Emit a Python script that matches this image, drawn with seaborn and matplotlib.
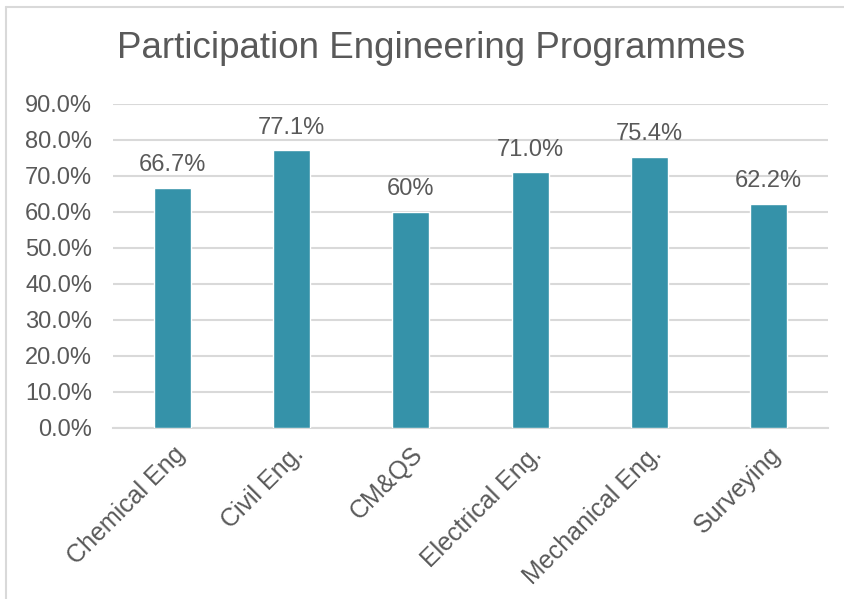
import matplotlib
matplotlib.use("Agg")
import matplotlib.pyplot as plt
import seaborn as sns
import pandas as pd
from matplotlib.lines import Line2D

programmes = ["Chemical Eng", "Civil Eng.", "CM&QS", "Electrical Eng.",
              "Mechanical Eng.", "Surveying"]
participation = [66.7, 77.1, 60.0, 71.0, 75.4, 62.2]
label_decimals = [1, 1, 0, 1, 1, 1]
yticks = [0, 10, 20, 30, 40, 50, 60, 70, 80, 90]

sns.set_theme(style="white")
plt.rcParams["font.family"] = ["Liberation Sans", "DejaVu Sans"]

TEXT = "#595959"
GRID = "#D9D9D9"
BAR = "#3592A9"

df = pd.DataFrame({"programme": programmes, "pct": participation})

fig = plt.figure(figsize=(8.45, 5.99), dpi=100)
ax = fig.add_axes([113 / 845, 1 - 428 / 599, (828 - 113) / 845, (428 - 104) / 599])

sns.barplot(data=df, x="programme", y="pct", color=BAR, width=0.31,
            saturation=1, ax=ax, zorder=3)

ax.set_ylim(0, 90)
ax.set_xlim(-0.5, len(programmes) - 0.5)
ax.set_yticks(yticks)
ax.set_yticklabels([f"{v:.1f}%" for v in yticks])
ax.yaxis.grid(True, color=GRID, linewidth=1.5, zorder=0)
ax.xaxis.grid(False)
for side in ["top", "right", "left"]:
    ax.spines[side].set_visible(False)
ax.spines["bottom"].set_color(GRID)
ax.spines["bottom"].set_linewidth(1.5)
ax.tick_params(axis="both", length=0, labelcolor=TEXT)
ax.tick_params(axis="y", pad=15, labelsize=17)
ax.tick_params(axis="x", pad=10, labelsize=18)
ax.set_xlabel("")
ax.set_ylabel("")
for lbl in ax.get_xticklabels():
    lbl.set_rotation(45)
    lbl.set_ha("right")
    lbl.set_rotation_mode("anchor")

for patch, val, dec in zip(ax.patches, participation, label_decimals):
    ax.annotate(f"{val:.{dec}f}%",
                (patch.get_x() + patch.get_width() / 2, patch.get_height()),
                xytext=(0, 8.5), textcoords="offset points",
                ha="center", va="bottom", fontsize=17, color=TEXT)

fig.text(431 / 845, 1 - 58 / 599, "Participation Engineering Programmes",
         ha="center", va="baseline", fontsize=26.5, color=TEXT)

# chart frame
fig.add_artist(Line2D([6 / 845, 6 / 845], [0, 1 - 7 / 599],
                      transform=fig.transFigure, color=GRID, linewidth=1.5))
fig.add_artist(Line2D([6 / 845, 1], [1 - 7 / 599, 1 - 7 / 599],
                      transform=fig.transFigure, color=GRID, linewidth=1.5))

fig.savefig("out.png", dpi=100)
